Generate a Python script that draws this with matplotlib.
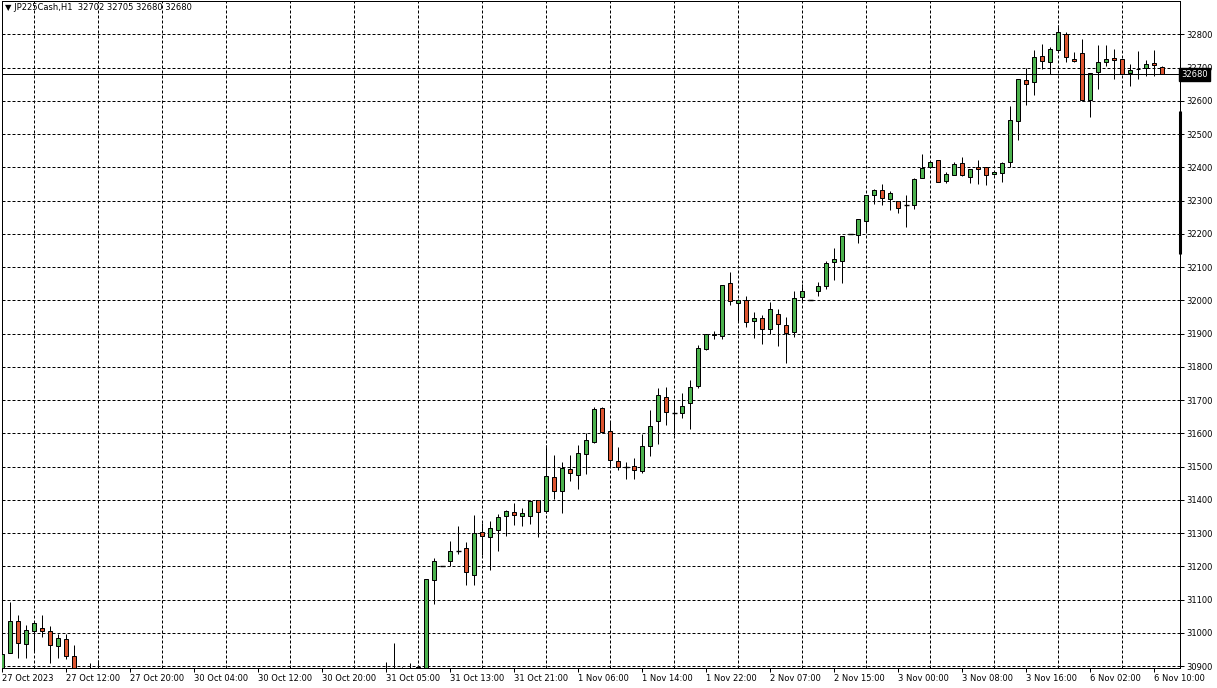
import numpy as np
import matplotlib
matplotlib.use("Agg")
import matplotlib.pyplot as plt
from matplotlib.ticker import FixedLocator
import matplotlib.transforms as mtransforms

nan = np.nan

symbol_title = "\u25bc JP225Cash,H1  32702 32705 32680 32680"

# OHLC per hourly bar (NaN = bar lies completely below the visible price range)
opens = [30880, 30938, 31036, 30967, 31006, 31015, 31006, 30961, 30982, 30931,
         nan, 30880, 30885] + [nan] * 35 + [
         30880, 30885, 30880, 30885, 30880, 30890, 31158, 31200, 31215, 31248,
         31255, 31173, 31303, 31288, 31309, 31350, 31363, 31351, 31351, 31400,
         31366, 31468, 31426, 31492, 31474, 31537, 31575, 31675, 31607, 31516,
         31500, 31501, 31486, 31563, 31636, 31708, 31662, 31660, 31690, 31741,
         31852, 31900, 31891, 32051, 31993, 32002, 31939, 31946, 31915, 31960,
         31927, 31906, 32011, 32000, 32029, 32044, 32116, 32119, 32200, 32196,
         32238, 32316, 32333, 32304, 32297, 32286, 32287, 32367, 32400, 32422,
         32358, 32377, 32413, 32371, 32401, 32400, 32380, 32383, 32416, 32539,
         32662, 32656, 32735, 32716, 32752, 32802, 32727, 32743, 32603, 32686,
         32718, 32728, 32725, 32683, 32694, 32698, 32715, 32702]
highs = [30950, 31092, 31053, 31022, 31035, 31052, 31019, 30995, 30995, 30962,
         nan, 30910, 30917] + [nan] * 35 + [
         30912, 30970, 30897, 30910, 30902, 31162, 31225, 31200, 31275, 31322,
         31273, 31355, 31330, 31337, 31356, 31370, 31390, 31375, 31400, 31400,
         31565, 31535, 31515, 31535, 31565, 31600, 31678, 31680, 31637, 31558,
         31513, 31525, 31599, 31670, 31736, 31739, 31695, 31721, 31760, 31864,
         31900, 31909, 32047, 32084, 32005, 32012, 31964, 31955, 31995, 31975,
         31951, 32027, 32050, 32000, 32054, 32119, 32158, 32194, 32200, 32243,
         32318, 32335, 32349, 32329, 32297, 32318, 32369, 32441, 32416, 32422,
         32387, 32415, 32431, 32395, 32423, 32402, 32388, 32417, 32585, 32665,
         32700, 32753, 32771, 32763, 32828, 32808, 32746, 32785, 32683, 32768,
         32768, 32755, 32725, 32710, 32751, 32723, 32753, 32705]
lows = [30870, 30938, 30923, 30923, 30945, 30987, 30910, 30923, 30920, 30870,
        nan, 30870, 30870] + [nan] * 35 + [
        30870, 30870, 30870, 30870, 30870, 30885, 31087, 31200, 31200, 31237,
        31143, 31143, 31233, 31188, 31245, 31290, 31323, 31320, 31327, 31287,
        31360, 31403, 31360, 31455, 31432, 31478, 31570, 31600, 31500, 31488,
        31462, 31462, 31480, 31533, 31568, 31625, 31595, 31647, 31613, 31737,
        31850, 31884, 31882, 31986, 31935, 31920, 31885, 31869, 31900, 31863,
        31812, 31890, 31999, 32000, 32013, 32034, 32060, 32052, 32200, 32171,
        32208, 32288, 32286, 32271, 32263, 32221, 32273, 32367, 32398, 32356,
        32353, 32377, 32373, 32354, 32351, 32348, 32377, 32357, 32402, 32481,
        32588, 32618, 32695, 32681, 32752, 32716, 32718, 32600, 32551, 32635,
        32705, 32665, 32681, 32643, 32666, 32673, 32673, 32680]
closes = [30935, 31036, 30970, 31009, 31028, 31006, 30964, 30985, 30930, 30880,
          nan, 30885, 30880] + [nan] * 35 + [
          30885, 30880, 30885, 30880, 30896, 31162, 31215, 31200, 31246, 31247,
          31182, 31300, 31290, 31315, 31349, 31367, 31354, 31360, 31397, 31363,
          31471, 31425, 31495, 31480, 31540, 31579, 31672, 31603, 31520, 31499,
          31499, 31489, 31561, 31621, 31715, 31663, 31662, 31681, 31738, 31855,
          31900, 31894, 32047, 31999, 32000, 31936, 31946, 31915, 31975, 31930,
          31903, 32008, 32029, 32000, 32042, 32113, 32123, 32194, 32200, 32243,
          32318, 32333, 32308, 32324, 32278, 32286, 32365, 32399, 32416, 32356,
          32380, 32410, 32376, 32395, 32395, 32377, 32386, 32413, 32542, 32665,
          32650, 32731, 32719, 32755, 32806, 32731, 32721, 32603, 32683, 32716,
          32725, 32722, 32681, 32692, 32696, 32710, 32707, 32680]

time_tick_bars = list(range(0, 145, 8))
time_tick_labels = ["27 Oct 2023", "27 Oct 12:00", "27 Oct 20:00", "30 Oct 04:00",
                    "30 Oct 12:00", "30 Oct 20:00", "31 Oct 05:00", "31 Oct 13:00",
                    "31 Oct 21:00", "1 Nov 06:00", "1 Nov 14:00", "1 Nov 22:00",
                    "2 Nov 07:00", "2 Nov 15:00", "3 Nov 00:00", "3 Nov 08:00",
                    "3 Nov 16:00", "6 Nov 02:00", "6 Nov 10:00"]
price_ticks = list(range(30900, 32801, 100))

BULL = "#4cb24e"
BEAR = "#dc5530"
PX = 0.72  # one pixel in points at 100 dpi

o = np.array(opens, float)
h = np.array(highs, float)
l = np.array(lows, float)
c = np.array(closes, float)
x = np.arange(len(o))

fig = plt.figure(figsize=(12.17, 6.88), dpi=100)
fig.patch.set_facecolor("white")
ax = fig.add_axes([1.7 / 1217, 1 - 667.5 / 688, (1179.5 - 1.7) / 1217, (667.5 - 1) / 688])
ax.set_facecolor("white")
ax.set_xlim(-0.075, 147.15)
ax.set_ylim(30895.5, 32900)

# grid
ax.set_axisbelow(True)
ax.xaxis.set_major_locator(FixedLocator(time_tick_bars))
ax.xaxis.set_minor_locator(FixedLocator(list(range(4, 148, 4))))
ax.yaxis.set_major_locator(FixedLocator(price_ticks))
ax.grid(which="minor", axis="x", color="black", lw=PX, linestyle=(0, (3, 2)))
ax.grid(which="major", axis="y", color="black", lw=PX, linestyle=(0, (3, 2)))

# candles
ax.vlines(x, l, h, color="black", lw=PX, zorder=3)
body = c - o
doji = np.abs(body) < 2
up = (body >= 0) & ~doji
dn = (body < 0) & ~doji
ax.bar(x[up], body[up], bottom=o[up], width=0.52, color=BULL, edgecolor="black", lw=PX, zorder=4)
ax.bar(x[dn], body[dn], bottom=o[dn], width=0.52, color=BEAR, edgecolor="black", lw=PX, zorder=4)
ax.hlines(c[doji], x[doji] - 0.3, x[doji] + 0.3, color="black", lw=PX * 1.4, zorder=4)

# current price line
ax.axhline(c[-1], color="black", lw=PX, zorder=5)

# axes styling
for s in ax.spines.values():
    s.set_color("black")
    s.set_linewidth(PX)
ax.set_xticklabels(time_tick_labels)
ax.tick_params(axis="x", which="major", direction="out", length=3, width=PX,
               labelsize=6, pad=2, colors="black")
ax.tick_params(axis="x", which="minor", length=0)
for t in ax.get_xticklabels():
    t.set_horizontalalignment("left")
ax.yaxis.tick_right()
ax.set_yticklabels([str(p) for p in price_ticks])
ax.tick_params(axis="y", direction="out", length=3, width=PX, labelsize=6, pad=2,
               colors="black")

# current price box on the price scale
trans = mtransforms.blended_transform_factory(ax.transAxes, ax.transData)
ax.text(1.0015, c[-1], "%d" % c[-1], transform=trans, ha="left", va="center",
        fontsize=6, color="white", zorder=10, clip_on=False,
        bbox=dict(boxstyle="square,pad=0.25", fc="black", ec="black"))
ax.plot([1.0, 1.0], [32569, 32139], transform=trans, color="black", lw=2.2,
        clip_on=False, zorder=10, solid_capstyle="butt")

fig.text(5 / 1217, 1 - 8 / 688, symbol_title, fontsize=6, ha="left", va="center",
         color="black")

fig.savefig("out.png", dpi=100, facecolor="white")
